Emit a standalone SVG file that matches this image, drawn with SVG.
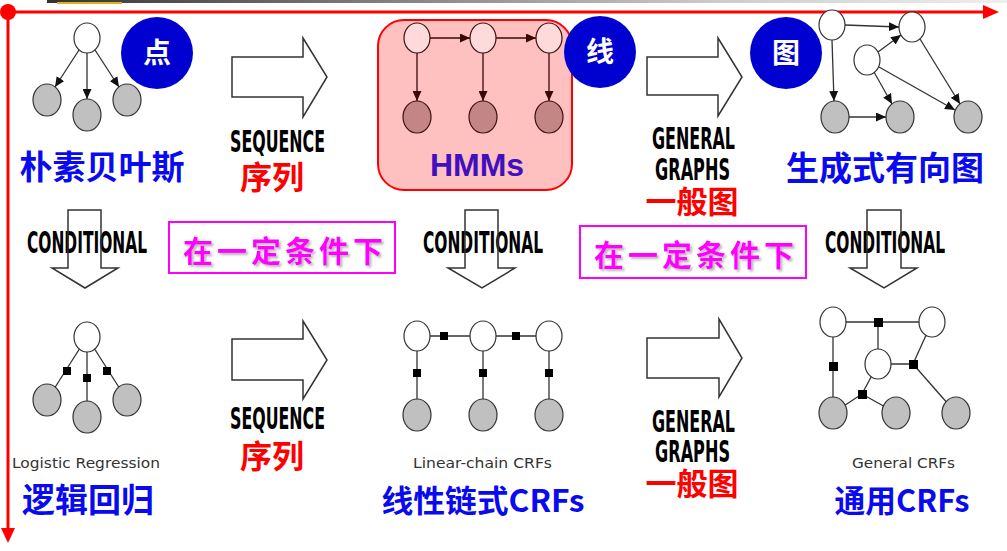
<svg xmlns="http://www.w3.org/2000/svg" width="1007" height="551" viewBox="0 0 1007 551">
<style>
.cjk{font-family:"Noto Sans CJK SC","Noto Sans",sans-serif;font-weight:bold;text-anchor:middle}
.blue{fill:#0a0af0}
.red{fill:#ff0000}
.cond{font-family:"DejaVu Sans Condensed","DejaVu Sans",sans-serif;font-weight:bold;font-size:30px;fill:#000}
.small{font-family:"DejaVu Sans",sans-serif;font-size:14px;fill:#333}
.mag{font-family:"Noto Sans CJK SC",sans-serif;font-weight:bold;font-size:30px;fill:#ff00ff}
.wn{fill:#fff;stroke:#333;stroke-width:1.2}
.gn{fill:#c0c0c0;stroke:#333;stroke-width:1.2}
.edge{stroke:#333;stroke-width:1.3;fill:none}
.fac{fill:#000}
.bigarrow{fill:none;stroke:#333;stroke-width:1.5}
.bc{fill:#0000d0}
.bct{font-family:"Noto Sans CJK SC",sans-serif;font-weight:bold;font-size:28px;fill:#fff;text-anchor:middle}
.magbox{fill:#fff;stroke:#ff00ff;stroke-width:2}
</style>
<defs>
<marker id="ah" markerUnits="userSpaceOnUse" markerWidth="10" markerHeight="9" refX="10" refY="4.5" orient="auto"><path d="M0,0 L10,4.5 L0,9 z" fill="#111"/></marker>
<marker id="ahb" markerUnits="userSpaceOnUse" markerWidth="10" markerHeight="9" refX="10" refY="4.5" orient="auto"><path d="M0,0 L10,4.5 L0,9 z" fill="#3a0808"/></marker>
<linearGradient id="topg" x1="0" x2="1" y1="0" y2="0"><stop offset="0" stop-color="#333"/><stop offset="0.7" stop-color="#ccc"/><stop offset="1" stop-color="#eee"/></linearGradient>
<filter id="sh" x="-10%" y="-20%" width="130%" height="150%"><feDropShadow dx="2" dy="2" stdDeviation="1" flood-color="#888" flood-opacity="0.6"/></filter>
</defs>

<g id="topbar">
<rect x="47" y="0" width="960" height="3" fill="url(#topg)"/>
<rect x="57" y="2" width="65" height="2" fill="#e0b020"/>
</g>

<g id="axes">
<line x1="8" y1="12" x2="986" y2="12" stroke="#ff0000" stroke-width="3"/>
<polygon points="983,5 999,12 983,19" fill="#ff0000"/>
<line x1="8" y1="12" x2="8" y2="530" stroke="#ff0000" stroke-width="3"/>
<polygon points="1,528 8,543 15,528" fill="#ff0000"/>
<circle cx="8" cy="12" r="8" fill="#ff0000"/>
</g>

<g id="connectors">
<line class="edge" x1="79" y1="50" x2="55" y2="87" marker-end="url(#ah)"/>
<line class="edge" x1="87" y1="53" x2="87" y2="99" marker-end="url(#ah)"/>
<line class="edge" x1="95" y1="50" x2="119" y2="87" marker-end="url(#ah)"/>
<line class="edge" x1="845" y1="25" x2="899" y2="27" marker-end="url(#ah)"/>
<line class="edge" x1="832" y1="40" x2="834" y2="101" marker-end="url(#ah)"/>
<line class="edge" x1="878" y1="52" x2="901" y2="35" marker-end="url(#ah)"/>
<line class="edge" x1="874" y1="72" x2="892" y2="104" marker-end="url(#ah)"/>
<line class="edge" x1="879" y1="67" x2="955" y2="110" marker-end="url(#ah)"/>
<line class="edge" x1="920" y1="39" x2="960" y2="104" marker-end="url(#ah)"/>
<line class="edge" x1="849" y1="117" x2="886" y2="117" marker-end="url(#ah)"/>
<line class="edge" x1="87" y1="337" x2="47" y2="400"/>
<line class="edge" x1="87" y1="337" x2="87" y2="417"/>
<line class="edge" x1="87" y1="337" x2="127" y2="400"/>
<line class="edge" x1="417" y1="336" x2="549" y2="336"/>
<line class="edge" x1="417" y1="336" x2="417" y2="415"/>
<line class="edge" x1="483" y1="336" x2="483" y2="415"/>
<line class="edge" x1="549" y1="336" x2="549" y2="415"/>
<line class="edge" x1="833" y1="322" x2="932" y2="322"/>
<line class="edge" x1="878" y1="322" x2="878" y2="364"/>
<line class="edge" x1="833" y1="322" x2="833" y2="413"/>
<line class="edge" x1="878" y1="364" x2="913" y2="364"/>
<line class="edge" x1="913" y1="364" x2="932" y2="322"/>
<line class="edge" x1="913" y1="364" x2="956" y2="413"/>
<line class="edge" x1="862" y1="394" x2="878" y2="364"/>
<line class="edge" x1="862" y1="394" x2="833" y2="413"/>
<line class="edge" x1="862" y1="394" x2="896" y2="413"/>
</g>

<g id="naive-bayes">
<ellipse class="wn" cx="87" cy="38" rx="13" ry="15"/>
<ellipse class="gn" cx="47" cy="100" rx="14" ry="16"/>
<ellipse class="gn" cx="87" cy="115" rx="14" ry="16"/>
<ellipse class="gn" cx="127" cy="100" rx="14" ry="16"/>
<text class="cjk blue" x="102" y="179" font-size="33">朴素贝叶斯</text>
</g>

<g id="circle-dian">
<circle class="bc" cx="157" cy="53" r="36"/>
<text class="bct" x="157" y="63">点</text>
</g>

<g id="hmms">
<rect x="378" y="20" width="194" height="170" rx="26" fill="#ffc0c0" stroke="#ff0000" stroke-width="2"/>
<line x1="430" y1="38" x2="470" y2="38" stroke="#3a0808" stroke-width="1.3" marker-end="url(#ahb)"/>
<line x1="496" y1="38" x2="536" y2="38" stroke="#3a0808" stroke-width="1.3" marker-end="url(#ahb)"/>
<line x1="417" y1="53" x2="417" y2="101" stroke="#3a0808" stroke-width="1.3" marker-end="url(#ahb)"/>
<line x1="483" y1="53" x2="483" y2="101" stroke="#3a0808" stroke-width="1.3" marker-end="url(#ahb)"/>
<line x1="549" y1="53" x2="549" y2="101" stroke="#3a0808" stroke-width="1.3" marker-end="url(#ahb)"/>
<ellipse cx="417" cy="38" rx="13" ry="15" fill="#ffdada" stroke="#3a1010" stroke-width="1.2"/>
<ellipse cx="483" cy="38" rx="13" ry="15" fill="#ffdada" stroke="#3a1010" stroke-width="1.2"/>
<ellipse cx="549" cy="38" rx="13" ry="15" fill="#ffdada" stroke="#3a1010" stroke-width="1.2"/>
<ellipse cx="417" cy="117" rx="14" ry="16" fill="#c48585" stroke="#3a1010" stroke-width="1.2"/>
<ellipse cx="483" cy="117" rx="14" ry="16" fill="#c48585" stroke="#3a1010" stroke-width="1.2"/>
<ellipse cx="549" cy="117" rx="14" ry="16" fill="#c48585" stroke="#3a1010" stroke-width="1.2"/>
<text x="477" y="176" font-family="Liberation Sans, Arial, sans-serif" font-weight="bold" font-size="32" fill="#4010c0" text-anchor="middle">HMMs</text>
</g>

<g id="circle-xian">
<circle class="bc" cx="600" cy="52" r="36"/>
<text class="bct" x="600" y="62">线</text>
</g>

<g id="circle-tu">
<circle class="bc" cx="786" cy="53" r="36"/>
<text class="bct" x="786" y="63">图</text>
</g>

<g id="generative-graph">
<ellipse class="wn" cx="832" cy="25" rx="13" ry="15"/>
<ellipse class="wn" cx="912" cy="27" rx="13" ry="15"/>
<ellipse class="wn" cx="867" cy="60" rx="13" ry="15"/>
<ellipse class="gn" cx="835" cy="117" rx="14" ry="16"/>
<ellipse class="gn" cx="900" cy="117" rx="14" ry="16"/>
<ellipse class="gn" cx="968" cy="117" rx="14" ry="16"/>
<text class="cjk blue" x="885" y="180" font-size="33">生成式有向图</text>
</g>

<g id="seq-arrow-1">
<polygon class="bigarrow" points="232,57 303,57 303,38 327,77 303,117 303,97 232,97"/>
<text class="cond" x="230" y="152" textLength="95" lengthAdjust="spacingAndGlyphs">SEQUENCE</text>
<text class="cjk red" x="272" y="189" font-size="32">序列</text>
</g>

<g id="gen-arrow-1">
<polygon class="bigarrow" points="647,57 718,57 718,38 742,77 718,116 718,95 647,95"/>
<text class="cond" x="652" y="149" textLength="83" lengthAdjust="spacingAndGlyphs">GENERAL</text>
<text class="cond" x="655" y="180" textLength="75" lengthAdjust="spacingAndGlyphs">GRAPHS</text>
<text class="cjk red" x="692" y="213" font-size="31">一般图</text>
</g>

<g id="cond-arrow-1">
<text class="cond" x="27" y="253" textLength="120" lengthAdjust="spacingAndGlyphs">CONDITIONAL</text>
<polygon class="bigarrow" points="68,210 101,210 101,268 118,268 85,288 52,268 68,268"/>
</g>
<g id="cond-arrow-2">
<text class="cond" x="423" y="253" textLength="120" lengthAdjust="spacingAndGlyphs">CONDITIONAL</text>
<polygon class="bigarrow" points="465,210 498,210 498,268 515,268 482,288 448,268 465,268"/>
</g>
<g id="cond-arrow-3">
<text class="cond" x="825" y="253" textLength="120" lengthAdjust="spacingAndGlyphs">CONDITIONAL</text>
<polygon class="bigarrow" points="867,210 901,210 901,268 917,268 884,288 850,268 867,268"/>
</g>

<g id="cond-box-1">
<rect class="magbox" x="169" y="222" width="226" height="51"/>
<text class="mag" x="183" y="262" textLength="200" lengthAdjust="spacing" filter="url(#sh)">在一定条件下</text>
</g>
<g id="cond-box-2">
<rect class="magbox" x="580" y="226" width="226" height="52"/>
<text class="mag" x="594" y="266" textLength="200" lengthAdjust="spacing" filter="url(#sh)">在一定条件下</text>
</g>

<g id="logistic">
<ellipse class="wn" cx="87" cy="337" rx="13" ry="15"/>
<ellipse class="gn" cx="47" cy="400" rx="14" ry="16"/>
<ellipse class="gn" cx="87" cy="417" rx="14" ry="16"/>
<ellipse class="gn" cx="127" cy="400" rx="14" ry="16"/>
<rect class="fac" x="63" y="367" width="8" height="8"/>
<rect class="fac" x="83" y="374" width="8" height="8"/>
<rect class="fac" x="103" y="367" width="8" height="8"/>
<text class="small" x="12" y="468" textLength="148" lengthAdjust="spacingAndGlyphs">Logistic Regression</text>
<text class="cjk blue" x="88" y="512" font-size="33">逻辑回归</text>
</g>

<g id="seq-arrow-2">
<polygon class="bigarrow" points="232,339 303,339 303,321 327,360 303,399 303,380 232,380"/>
<text class="cond" x="230" y="429" textLength="95" lengthAdjust="spacingAndGlyphs">SEQUENCE</text>
<text class="cjk red" x="272" y="468" font-size="32">序列</text>
</g>

<g id="linear-crf">
<ellipse class="wn" cx="417" cy="336" rx="13" ry="15"/>
<ellipse class="wn" cx="483" cy="336" rx="13" ry="15"/>
<ellipse class="wn" cx="549" cy="336" rx="13" ry="15"/>
<ellipse class="gn" cx="417" cy="415" rx="14" ry="16"/>
<ellipse class="gn" cx="483" cy="415" rx="14" ry="16"/>
<ellipse class="gn" cx="549" cy="415" rx="14" ry="16"/>
<rect class="fac" x="440" y="332" width="8" height="8"/>
<rect class="fac" x="512" y="332" width="8" height="8"/>
<rect class="fac" x="413" y="369" width="8" height="8"/>
<rect class="fac" x="479" y="369" width="8" height="8"/>
<rect class="fac" x="545" y="369" width="8" height="8"/>
<text class="small" x="413" y="468" textLength="139" lengthAdjust="spacingAndGlyphs">Linear-chain CRFs</text>
<text class="cjk blue" x="483" y="512" font-size="31" textLength="203" lengthAdjust="spacingAndGlyphs">线性链式CRFs</text>
</g>

<g id="gen-arrow-2">
<polygon class="bigarrow" points="647,338 719,338 719,319 742,358 719,397 719,378 647,378"/>
<text class="cond" x="652" y="432" textLength="83" lengthAdjust="spacingAndGlyphs">GENERAL</text>
<text class="cond" x="655" y="462" textLength="75" lengthAdjust="spacingAndGlyphs">GRAPHS</text>
<text class="cjk red" x="692" y="495" font-size="31">一般图</text>
</g>

<g id="general-crf">
<ellipse class="wn" cx="833" cy="322" rx="13" ry="15"/>
<ellipse class="wn" cx="932" cy="322" rx="13" ry="15"/>
<ellipse class="wn" cx="878" cy="364" rx="13" ry="15"/>
<ellipse class="gn" cx="833" cy="413" rx="14" ry="16"/>
<ellipse class="gn" cx="896" cy="413" rx="14" ry="16"/>
<ellipse class="gn" cx="956" cy="413" rx="14" ry="16"/>
<rect class="fac" x="874" y="318" width="9" height="9"/>
<rect class="fac" x="829" y="362" width="9" height="9"/>
<rect class="fac" x="909" y="360" width="9" height="9"/>
<rect class="fac" x="858" y="390" width="9" height="9"/>
<text class="small" x="852" y="468" textLength="103" lengthAdjust="spacingAndGlyphs">General CRFs</text>
<text class="cjk blue" x="902" y="512" font-size="31" textLength="135" lengthAdjust="spacingAndGlyphs">通用CRFs</text>
</g>
</svg>
